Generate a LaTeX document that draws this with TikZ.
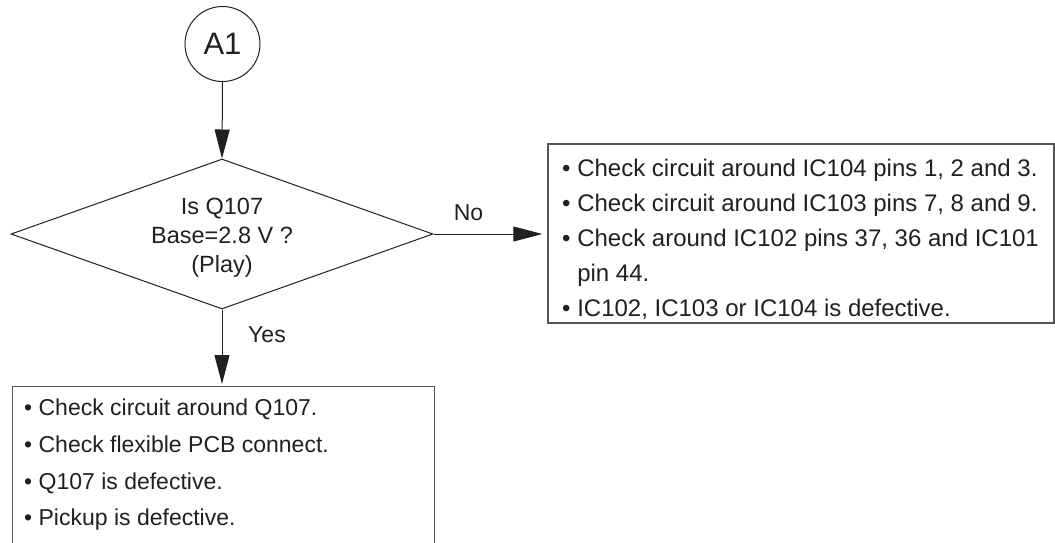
\documentclass[tikz,border=0pt]{standalone}
\usepackage{fontspec}
\setmainfont{Liberation Sans}
\usetikzlibrary{shapes.geometric, arrows.meta}
\definecolor{ink}{HTML}{231F20}
\definecolor{framegray}{HTML}{555555}
\begin{document}
\begin{tikzpicture}[x=1pt,y=-1pt,
  shapeline/.style={draw=ink, line width=1pt},
  boxframe/.style={draw=framegray, line width=1.4pt},
  conn/.style={draw=ink, line width=1pt, -{Triangle[length=29pt,width=15pt]}},
  bodytext/.style={text=ink, inner sep=0pt, align=left},
  lbl/.style={text=ink, inner sep=0pt, font=\fontsize{23}{23}\selectfont},
]
\useasboundingbox (0,0) rectangle (1055,542);
\clip (0,0) rectangle (1055,542);

\node[circle, shapeline, minimum size=75pt, inner sep=0pt, text=ink,
      font=\fontsize{31}{31}\selectfont] (a1) at (222.5,44) {A1};

\node[diamond, shapeline, aspect=2.8, minimum width=422pt, minimum height=150pt,
      inner sep=0pt, align=center, text=ink, font=\fontsize{23.5}{29}\selectfont]
      (q) at (222,234) {\rule{0pt}{23pt}Is Q107\\Base=2.8 V ?\\(Play)};

\node[boxframe, minimum width=506pt, minimum height=179pt, inner sep=0pt] (no) at (801,233.5) {};
\node[bodytext, anchor=north west, font=\fontsize{24}{35}\selectfont] (notext) at (562,159)
 {\textbullet\ Check circuit around IC104 pins 1, 2 and 3.\\
  \textbullet\ Check circuit around IC103 pins 7, 8 and 9.\\
  \textbullet\ Check around IC102 pins 37, 36 and IC101\\
  \phantom{\textbullet\ }pin 44.\\
  \textbullet\ IC102, IC103 or IC104 is defective.};

\node[boxframe, anchor=north west, minimum width=422pt, minimum height=175pt, inner sep=0pt] (yes) at (12,386) {};
\node[bodytext, anchor=north west, font=\fontsize{23}{36.7}\selectfont] (yestext) at (24,399)
 {\textbullet\ Check circuit around Q107.\\
  \textbullet\ Check flexible PCB connect.\\
  \textbullet\ Q107 is defective.\\
  \textbullet\ Pickup is defective.};

\draw[conn] (a1.south) -- (q.north);
\draw[conn, shorten >=5pt] (q.east) -- (q.east -| no.west);
\draw[conn, shorten >=2pt] (q.south) -- (q.south |- yes.north);

\node[lbl] (nolbl) at (468.5,213) {No};
\node[lbl] (yeslbl) at (267,335) {Yes};
\end{tikzpicture}
\end{document}
